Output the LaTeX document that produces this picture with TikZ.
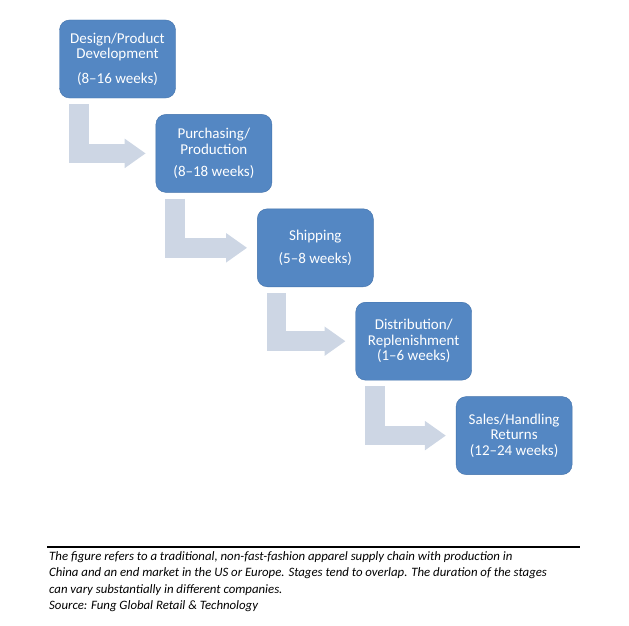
\documentclass[tikz,border=0pt]{standalone}
\usepackage{fontspec}
\setmainfont{Carlito}
\usetikzlibrary{arrows.meta, positioning}
\definecolor{stagefill}{RGB}{84,135,195}
\definecolor{stagedraw}{RGB}{66,113,170}
\definecolor{flowgray}{RGB}{205,214,228}
\tikzset{
  stage/.style={rectangle,draw=stagedraw,fill=stagefill,rounded corners=10pt,align=center,
    text=white,minimum width=116pt,minimum height=78pt,inner sep=2pt,
    font=\fontsize{15}{15.5}\selectfont},
  flow/.style={draw=flowgray,line width=19.5pt,line join=miter,
    -{Triangle[length=21pt,width=28pt]}},
  note/.style={anchor=north west,align=left,inner sep=0pt,
    font=\fontsize{12.8}{16.6}\selectfont\itshape}
}
\begin{document}
\begin{tikzpicture}[x=1pt,y=1pt]
\useasboundingbox (0,0) rectangle (629,-626);
\node[stage] (design) at (117.5,-59) {Design/Product\\Development\\[9pt](8--16 weeks)};
\node[stage, below right=16pt and -20pt of design] (purch) {Purchasing/\\Production\\[7pt](8--18 weeks)};
\node[stage, below right=16pt and -15pt of purch] (ship) {Shipping\\[8pt](5--8 weeks)};
\node[stage, below right=15pt and -18pt of ship] (distr) {Distribution/\\Replenishment\\(1--6 weeks)};
\node[stage, below right=16pt and -16pt of distr] (sales) {Sales/Handling\\Returns\\(12--24 weeks)};
\draw[flow] ([xshift=19.5pt,yshift=-6pt]design.south west) |- ([xshift=-10pt]purch.west);
\draw[flow] ([xshift=19.5pt,yshift=-6pt]purch.south west) |- ([xshift=-10pt]ship.west);
\draw[flow] ([xshift=19.5pt,yshift=-6pt]ship.south west) |- ([xshift=-10pt]distr.west);
\draw[flow] ([xshift=19.5pt,yshift=-6pt]distr.south west) |- ([xshift=-10pt]sales.west);
% footnote under the chart
\draw[line width=2pt] (47,-547) -- (580,-547);
\node[note] (src) at (49,-551) {The figure refers to a traditional, non-fast-fashion apparel supply chain with production in\\
China and an end market in the US or Europe. Stages tend to overlap. The duration of the stages\\
can vary substantially in different companies.\\
Source: Fung Global Retail \& Technology};
\end{tikzpicture}
\end{document}
